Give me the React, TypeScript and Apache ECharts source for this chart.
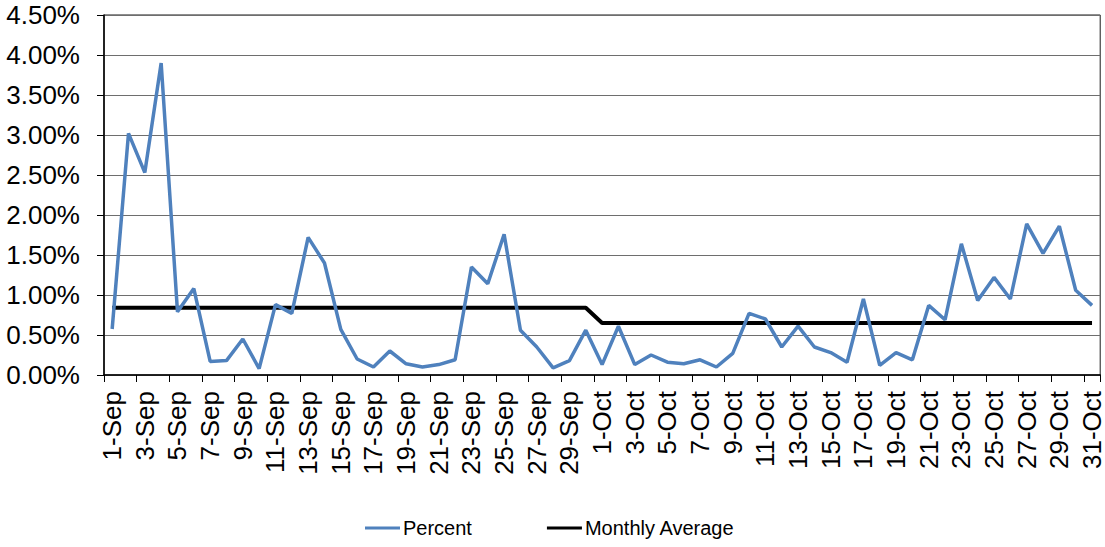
import React, { useEffect, useRef } from "react";
import * as echarts from "echarts";

const categories: string[] = [
  "1-Sep","2-Sep","3-Sep","4-Sep","5-Sep","6-Sep","7-Sep","8-Sep","9-Sep","10-Sep",
  "11-Sep","12-Sep","13-Sep","14-Sep","15-Sep","16-Sep","17-Sep","18-Sep","19-Sep","20-Sep",
  "21-Sep","22-Sep","23-Sep","24-Sep","25-Sep","26-Sep","27-Sep","28-Sep","29-Sep","30-Sep",
  "1-Oct","2-Oct","3-Oct","4-Oct","5-Oct","6-Oct","7-Oct","8-Oct","9-Oct","10-Oct",
  "11-Oct","12-Oct","13-Oct","14-Oct","15-Oct","16-Oct","17-Oct","18-Oct","19-Oct","20-Oct",
  "21-Oct","22-Oct","23-Oct","24-Oct","25-Oct","26-Oct","27-Oct","28-Oct","29-Oct","30-Oct","31-Oct",
];

// Percent values (in %)
const percentSep: number[] = [
  0.575, 3.02, 2.53, 3.9, 0.79, 1.08, 0.17, 0.18, 0.45, 0.08,
  0.88, 0.77, 1.72, 1.40, 0.57, 0.20, 0.10, 0.30, 0.14, 0.10,
  0.13, 0.19, 1.35, 1.14, 1.76, 0.56, 0.35, 0.09, 0.18, 0.56,
];
const percentOct: number[] = [
  0.13, 0.61, 0.13, 0.25, 0.16, 0.14, 0.19, 0.10, 0.27, 0.77,
  0.70, 0.35, 0.61, 0.35, 0.28, 0.16, 0.95, 0.12, 0.28, 0.19,
  0.87, 0.69, 1.64, 0.93, 1.22, 0.95, 1.89, 1.52, 1.86, 1.06, 0.87,
];

const avgSep: number[] = [
  0.84, 0.84, 0.84, 0.84, 0.84, 0.84, 0.84, 0.84, 0.84, 0.84,
  0.84, 0.84, 0.84, 0.84, 0.84, 0.84, 0.84, 0.84, 0.84, 0.84,
  0.84, 0.84, 0.84, 0.84, 0.84, 0.84, 0.84, 0.84, 0.84, 0.84,
];
const avgOct: number[] = [
  0.65, 0.65, 0.65, 0.65, 0.65, 0.65, 0.65, 0.65, 0.65, 0.65,
  0.65, 0.65, 0.65, 0.65, 0.65, 0.65, 0.65, 0.65, 0.65, 0.65,
  0.65, 0.65, 0.65, 0.65, 0.65, 0.65, 0.65, 0.65, 0.65, 0.65, 0.65,
];

const percent = [...percentSep, ...percentOct];
const monthlyAverage = [...avgSep, ...avgOct];

const FONT = "'Liberation Sans', Arial, sans-serif";

export default function App() {
  const ref = useRef<HTMLDivElement>(null);
  useEffect(() => {
    if (!ref.current) return;
    const chart = echarts.init(ref.current, undefined, { renderer: "svg" });
    chart.setOption({
      animation: false,
      backgroundColor: "#ffffff",
      textStyle: { fontFamily: FONT },
      grid: {
        left: 104,
        right: 2,
        top: 15,
        bottom: 172,
        containLabel: false,
        show: true,
        borderColor: "#1a1a1a",
        borderWidth: 1,
      },
      legend: {
        bottom: 4,
        left: 360,
        itemWidth: 35,
        itemHeight: 3,
        itemGap: 75,
        icon: "rect",
        textStyle: { fontFamily: FONT, fontSize: 20, color: "#000", padding: [0, 0, 0, -2] },
        data: [
          { name: "Percent", itemStyle: { color: "#4F81BD" } },
          { name: "Monthly Average", itemStyle: { color: "#000000" } },
        ],
      },
      xAxis: {
        type: "category",
        data: categories,
        boundaryGap: true,
        axisLine: { show: true, lineStyle: { color: "#000", width: 1.5 } },
        axisTick: { show: true, interval: 1, length: 7, lineStyle: { color: "#000" } },
        axisLabel: {
          interval: 1,
          rotate: 90,
          margin: 16,
          fontSize: 26,
          fontFamily: FONT,
          color: "#000",
        },
        splitLine: { show: false },
      },
      yAxis: {
        type: "value",
        min: 0,
        max: 4.5,
        interval: 0.5,
        axisLine: { show: true, lineStyle: { color: "#000", width: 1.5 } },
        axisTick: { show: true, length: 7, lineStyle: { color: "#000" } },
        axisLabel: {
          margin: 24,
          fontSize: 26,
          fontFamily: FONT,
          color: "#000",
          formatter: (v: number) => v.toFixed(2) + "%",
        },
        splitLine: { show: true, lineStyle: { color: "#6e6e6e", width: 1.2 } },
      },
      series: [
        {
          name: "Percent",
          type: "line",
          data: percent,
          symbol: "none",
          lineStyle: { color: "#4F81BD", width: 3.5 },
          itemStyle: { color: "#4F81BD" },
          z: 3,
        },
        {
          name: "Monthly Average",
          type: "line",
          data: monthlyAverage,
          symbol: "none",
          lineStyle: { color: "#000000", width: 4 },
          itemStyle: { color: "#000000" },
          z: 2,
        },
      ],
    });
    return () => chart.dispose();
  }, []);
  return (
    <div
      ref={ref}
      style={{ position: "fixed", left: 0, top: 0, width: 1105, height: 547, background: "#fff" }}
    />
  );
}
